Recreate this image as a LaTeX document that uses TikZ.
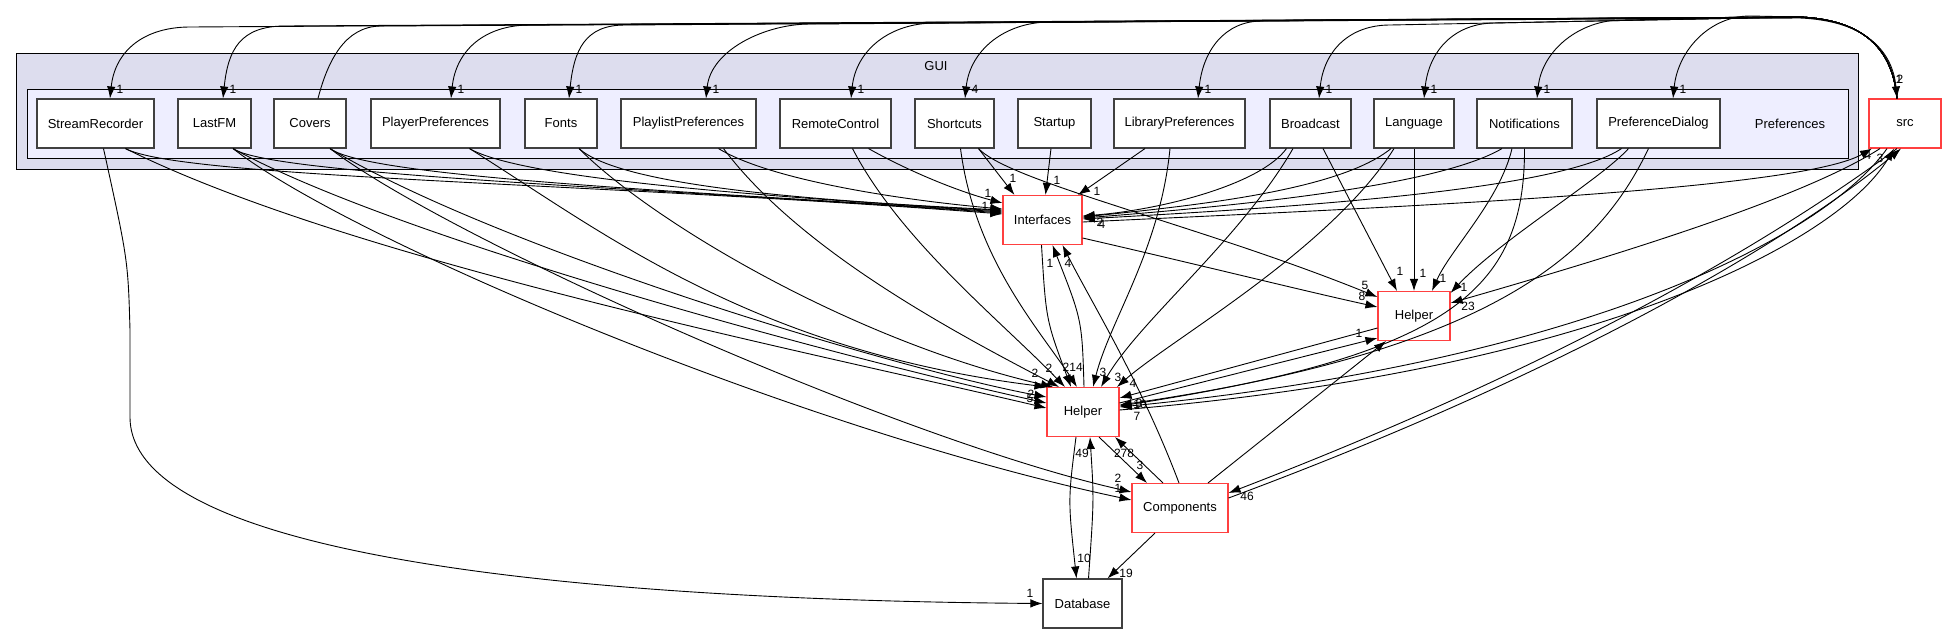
\documentclass[tikz,border=0pt]{standalone}
\usepackage{fontspec}
\setmainfont{Liberation Sans}
\usepackage{xcolor}
\usepackage{tikz}
\usetikzlibrary{arrows.meta}
\definecolor{guifill}{HTML}{DDDDEE}
\definecolor{preffill}{HTML}{EEEEFF}
\definecolor{extred}{HTML}{FF4040}

\begin{document}
\begin{tikzpicture}[x=1pt,y=-1pt,
  dirbox/.style={draw=black!75,fill=white,line width=1.1pt,minimum height=49pt,inner sep=0pt,font=\fontsize{13}{15}\selectfont},
  extbox/.style={dirbox,draw=extred},
  dep/.style={-{Latex[length=12pt,width=8.5pt]},line width=0.9pt},
  cnt/.style={font=\fontsize{12}{12}\selectfont,inner sep=0pt},
  clabel/.style={font=\fontsize{13}{15}\selectfont,inner sep=0pt}
]
  \useasboundingbox (0,0) rectangle (1947,633);
  % clusters
  \draw[fill=guifill,line width=1pt] (16,53) rectangle (1858,169);
  \draw[fill=preffill,line width=1pt] (27,89) rectangle (1848,158);
  \node[clabel] (guilbl) at (936,66) {GUI};
  \node[clabel] (preflbl) at (1790,123.5) {Preferences};

  % directories
  \node[dirbox,minimum width=117pt] (sr) at (95.5,123.5) {StreamRecorder};
  \node[dirbox,minimum width=73pt] (lfm) at (214.5,123.5) {LastFM};
  \node[dirbox,minimum width=72pt] (cov) at (310,123.5) {Covers};
  \node[dirbox,minimum width=129pt] (pp) at (435.5,123.5) {PlayerPreferences};
  \node[dirbox,minimum width=72pt] (fonts) at (561,123.5) {Fonts};
  \node[dirbox,minimum width=135pt] (plp) at (688.5,123.5) {PlaylistPreferences};
  \node[dirbox,minimum width=111pt] (rc) at (835.5,123.5) {RemoteControl};
  \node[dirbox,minimum width=79pt] (sh) at (954.5,123.5) {Shortcuts};
  \node[dirbox,minimum width=73pt] (st) at (1054.5,123.5) {Startup};
  \node[dirbox,minimum width=131pt] (lp) at (1179.5,123.5) {LibraryPreferences};
  \node[dirbox,minimum width=81pt] (bc) at (1310.5,123.5) {Broadcast};
  \node[dirbox,minimum width=80pt] (lang) at (1414,123.5) {Language};
  \node[dirbox,minimum width=95pt] (notif) at (1524.5,123.5) {Notifications};
  \node[dirbox,minimum width=123pt] (pd) at (1658.5,123.5) {PreferenceDialog};
  \node[extbox,minimum width=72pt] (src) at (1905,123.5) {src};
  \node[extbox,minimum width=79pt] (intf) at (1042.5,220) {Interfaces};
  \node[extbox,minimum width=72pt] (helpr) at (1414,316) {Helper};
  \node[extbox,minimum width=72pt] (helpc) at (1083,412) {Helper};
  \node[extbox,minimum width=96pt] (comp) at (1180,508) {Components};
  \node[dirbox,minimum width=79pt] (db) at (1082.5,603.5) {Database};

  % src down into the preference directories
  \draw[dep] ([xshift=-8pt]src.north) .. controls (1893,55) and (1870,20) .. (1800,17) -- (190,27) .. controls (145,27) and (115,50) .. ([xshift=14.5pt]sr.north) node[cnt] at (120,89) {1};
  \draw[dep] ([xshift=-8pt]src.north) .. controls (1893,55) and (1870,20) .. (1800,17) -- (285,26) .. controls (240,26) and (228,50) .. ([xshift=8.5pt]lfm.north) node[cnt] at (233,89) {1};
  \draw[dep] ([xshift=-8pt]src.north) .. controls (1893,55) and (1870,20) .. (1800,17) -- (530,25) .. controls (485,25) and (456,50) .. ([xshift=15.5pt]pp.north) node[cnt] at (461,89) {1};
  \draw[dep] ([xshift=-8pt]src.north) .. controls (1893,55) and (1870,20) .. (1800,17) -- (625,25) .. controls (585,25) and (574,50) .. ([xshift=8pt]fonts.north) node[cnt] at (579,89) {1};
  \draw[dep] ([xshift=-8pt]src.north) .. controls (1893,55) and (1870,20) .. (1800,17) -- (810,24) .. controls (765,24) and (711,50) .. ([xshift=17.5pt]plp.north) node[cnt] at (716,89) {1};
  \draw[dep] ([xshift=-8pt]src.north) .. controls (1893,55) and (1870,20) .. (1800,17) -- (935,23) .. controls (890,23) and (856,50) .. ([xshift=15.5pt]rc.north) node[cnt] at (861,89) {1};
  \draw[dep] ([xshift=-8pt]src.north) .. controls (1893,55) and (1870,20) .. (1800,17) -- (1050,22) .. controls (1005,22) and (970,50) .. ([xshift=10.5pt]sh.north) node[cnt] at (975,89) {4};
  \draw[dep] ([xshift=-8pt]src.north) .. controls (1893,55) and (1870,20) .. (1800,17) -- (1262,21) .. controls (1225,21) and (1203,50) .. ([xshift=18.5pt]lp.north) node[cnt] at (1208,89) {1};
  \draw[dep] ([xshift=-8pt]src.north) .. controls (1893,55) and (1870,20) .. (1800,17) -- (1390,25) .. controls (1350,25) and (1324,50) .. ([xshift=8.5pt]bc.north) node[cnt] at (1329,89) {1};
  \draw[dep] ([xshift=-8pt]src.north) .. controls (1893,55) and (1870,20) .. (1800,17) -- (1495,23) .. controls (1455,23) and (1429,50) .. ([xshift=10pt]lang.north) node[cnt] at (1434,89) {1};
  \draw[dep] ([xshift=-8pt]src.north) .. controls (1893,55) and (1870,20) .. (1800,17) -- (1622,20) .. controls (1580,20) and (1542,50) .. ([xshift=12.5pt]notif.north) node[cnt] at (1547,89) {1};
  \draw[dep] ([xshift=-8pt]src.north) .. controls (1893,55) and (1870,20) .. (1800,17) -- (1750,16) .. controls (1710,16) and (1678,50) .. ([xshift=14.5pt]pd.north) node[cnt] at (1683,89) {1};
  \draw[dep] ([xshift=8pt]cov.north) .. controls (328,60) and (345,27) .. (380,26) -- (1800,18) .. controls (1870,21) and (1893,55) .. ([xshift=-8pt]src.north) node[cnt] at (1899,79) {1} node[cnt] at (1900,79) {2};

  % into Interfaces
  \draw[dep] ([xshift=30pt]sr.south) .. controls (180,178) and (600,183) .. ([yshift=6pt]intf.west);
  \draw[dep] ([xshift=18.5pt]lfm.south) .. controls (270,175) and (650,188) .. ([yshift=7pt]intf.west);
  \draw[dep] ([xshift=20pt]cov.south) .. controls (370,178) and (700,192) .. ([yshift=8pt]intf.west);
  \draw[dep] ([xshift=34pt]pp.south) .. controls (520,178) and (750,196) .. ([yshift=9pt]intf.west);
  \draw[dep] ([xshift=18pt]fonts.south) .. controls (620,185) and (800,200) .. ([yshift=10pt]intf.west);
  \draw[dep] ([xshift=30pt]plp.south) .. controls (770,180) and (900,200) .. ([yshift=11pt]intf.west) node[cnt] at (985,206) {1};
  \draw[dep] ([xshift=33pt]rc.south) .. controls (910,172) and (960,192) .. ([yshift=17pt]intf.west) node[cnt] at (988,193) {1};
  \draw[dep] ([xshift=24pt]sh.south) -- ([xshift=-28pt]intf.north) node[cnt] at (1013,178) {1};
  \draw[dep] ([xshift=-3.5pt]st.south) -- ([xshift=3pt]intf.north) node[cnt] at (1057,180) {1};
  \draw[dep] ([xshift=-34.5pt]lp.south) -- ([xshift=35.5pt]intf.north) node[cnt] at (1097,191) {1};
  \draw[dep] ([xshift=-24pt]bc.south) .. controls (1260,185) and (1160,210) .. ([yshift=4pt]intf.east);
  \draw[dep] ([xshift=-23pt]lang.south) .. controls (1340,190) and (1200,205) .. ([yshift=3pt]intf.east);
  \draw[dep] ([xshift=-22.5pt]notif.south) .. controls (1440,185) and (1250,205) .. ([yshift=2pt]intf.east) node[cnt] at (1100,222) {2};
  \draw[dep] ([xshift=-37pt]pd.south) .. controls (1560,190) and (1300,207) .. ([yshift=1pt]intf.east) node[cnt] at (1102,224) {4};
  \draw[dep] ([xshift=-1pt]comp.north) .. controls (1140,380) and (1090,300) .. ([xshift=20pt]intf.south) node[cnt] at (1068,263) {4};
  \draw[dep] ([xshift=1pt]helpc.north) .. controls (1082,320) .. ([xshift=10pt]intf.south) node[cnt] at (1050,263) {1};

  % out of Interfaces
  \draw[dep] ([yshift=-2pt]intf.east) .. controls (1400,207) and (1800,190) .. ([xshift=-33pt]src.south) node[cnt] at (1868,155) {4};
  \draw[dep] ([yshift=-18pt]intf.east) .. controls (1200,265) and (1300,290) .. ([yshift=9pt]helpr.west) node[cnt] at (1362,296) {8};
  \draw[dep] ([xshift=-1pt]intf.south) .. controls (1046,320) .. ([xshift=-12pt]helpc.north) node[cnt] at (1076,367) {14};

  % into the right Helper
  \draw[dep] ([xshift=24pt]sh.south) .. controls (1010,182) and (1200,225) .. ([yshift=19pt]helpr.west) node[cnt] at (1365,285) {5};
  \draw[dep] ([xshift=12.5pt]bc.south) -- ([xshift=-17pt]helpr.north) node[cnt] at (1400,271) {1};
  \draw[dep] (lang.south) -- (helpr.north) node[cnt] at (1423,273) {1};
  \draw[dep] ([xshift=-12.5pt]notif.south) .. controls (1500,200) and (1450,250) .. ([xshift=18pt]helpr.north) node[cnt] at (1443,278) {1};
  \draw[dep] ([xshift=-30pt]pd.south) .. controls (1600,180) and (1500,240) .. ([yshift=-2pt]helpr.north east) node[cnt] at (1464,287) {1};
  \draw[dep] ([xshift=-25pt]src.south) .. controls (1800,200) and (1600,260) .. ([yshift=13pt]helpr.east) node[cnt] at (1468,306) {23};
  \draw[dep] ([yshift=9pt]helpc.east) -- ([yshift=-22pt]helpr.west) node[cnt] at (1359,333) {1};
  \draw[dep] ([xshift=28pt]comp.north) -- ([xshift=-28pt]helpr.south);

  % into the central Helper
  \draw[dep] ([xshift=30pt]sr.south) .. controls (350,260) and (800,350) .. ([yshift=4pt]helpc.west) node[cnt] at (1030,398) {5};
  \draw[dep] ([xshift=18.5pt]lfm.south) .. controls (400,240) and (850,360) .. ([yshift=9pt]helpc.west) node[cnt] at (1031,394) {2};
  \draw[dep] ([xshift=20pt]cov.south) .. controls (500,250) and (900,370) .. ([yshift=15pt]helpc.west);
  \draw[dep] ([xshift=34pt]pp.south) .. controls (600,230) and (750,350) .. (helpc.north west) node[cnt] at (1035,373) {2};
  \draw[dep] ([xshift=18pt]fonts.south) .. controls (650,220) and (850,340) .. ([xshift=-30pt]helpc.north) node[cnt] at (1049,368) {2};
  \draw[dep] ([xshift=35pt]plp.south) .. controls (800,250) and (950,330) .. ([xshift=-24pt]helpc.north);
  \draw[dep] ([xshift=17pt]rc.south) .. controls (900,240) and (1000,320) .. ([xshift=-18pt]helpc.north) node[cnt] at (1066,367) {2};
  \draw[dep] ([xshift=6pt]sh.south) .. controls (975,260) and (1040,330) .. ([xshift=-6pt]helpc.north);
  \draw[dep] ([xshift=-9.5pt]lp.south) .. controls (1160,250) and (1110,320) .. ([xshift=10pt]helpc.north) node[cnt] at (1103,372) {3};
  \draw[dep] ([xshift=-17.5pt]bc.south) .. controls (1240,240) and (1140,320) .. ([xshift=18pt]helpc.north) node[cnt] at (1118,377) {3};
  \draw[dep] ([xshift=-20pt]lang.south) .. controls (1330,250) and (1170,340) .. ([xshift=34pt]helpc.north) node[cnt] at (1133,383) {4};
  \draw[dep] (notif.south) .. controls (1525,290) and (1450,355) .. ([yshift=6pt]helpc.east);
  \draw[dep] ([xshift=-10pt]pd.south) .. controls (1600,250) and (1500,350) .. ([yshift=7pt]helpc.east);
  \draw[dep] ([yshift=-12pt]helpr.west) -- ([yshift=14pt]helpc.east) node[cnt] at (1139,403) {3};
  \draw[dep] ([xshift=-18pt]src.south) .. controls (1830,230) and (1600,360) .. ([yshift=5pt]helpc.east) node[cnt] at (1140,404) {10} node[cnt] at (1137,416) {7};
  \draw[dep] ([xshift=6pt]db.north) .. controls (1094,500) .. ([xshift=7pt]helpc.south) node[cnt] at (1082,453) {49};
  \draw[dep] ([xshift=-17pt]comp.north) -- ([xshift=32pt]helpc.south) node[cnt] at (1124,453) {278};

  % out of the central Helper
  \draw[dep] ([yshift=2pt]helpc.east) .. controls (1600,370) and (1840,240) .. ([xshift=-11pt]src.south) node[cnt] at (1880,158) {3};
  \draw[dep] ([xshift=-7pt]helpc.south) .. controls (1068,500) .. ([xshift=-6pt]db.north) node[cnt] at (1084,558) {10};
  \draw[dep] ([xshift=16pt]helpc.south) -- ([xshift=-33pt]comp.north) node[cnt] at (1140,465) {3};

  % Components
  \draw[dep] ([xshift=18.5pt]lfm.south) .. controls (350,240) and (800,430) .. ([yshift=8pt]comp.west) node[cnt] at (1118,488) {1};
  \draw[dep] ([xshift=20pt]cov.south) .. controls (450,240) and (900,440) .. ([yshift=16pt]comp.west) node[cnt] at (1118,478) {2};
  \draw[dep] ([xshift=-8pt]src.south) .. controls (1800,220) and (1600,350) .. ([yshift=15pt]comp.east) node[cnt] at (1247,496) {46};
  \draw[dep] ([yshift=10pt]comp.east) .. controls (1600,360) and (1810,225) .. ([xshift=-4pt]src.south);
  \draw[dep] ([xshift=-25pt]comp.south) -- ([xshift=25pt]db.north) node[cnt] at (1126,573) {19};

  % Database
  \draw[dep] ([xshift=8pt]sr.south) .. controls (128,260) .. (130,330) -- (130,417) .. controls (130,560) and (600,600) .. (db.west) node[cnt] at (1030,593) {1};
\end{tikzpicture}
\end{document}
